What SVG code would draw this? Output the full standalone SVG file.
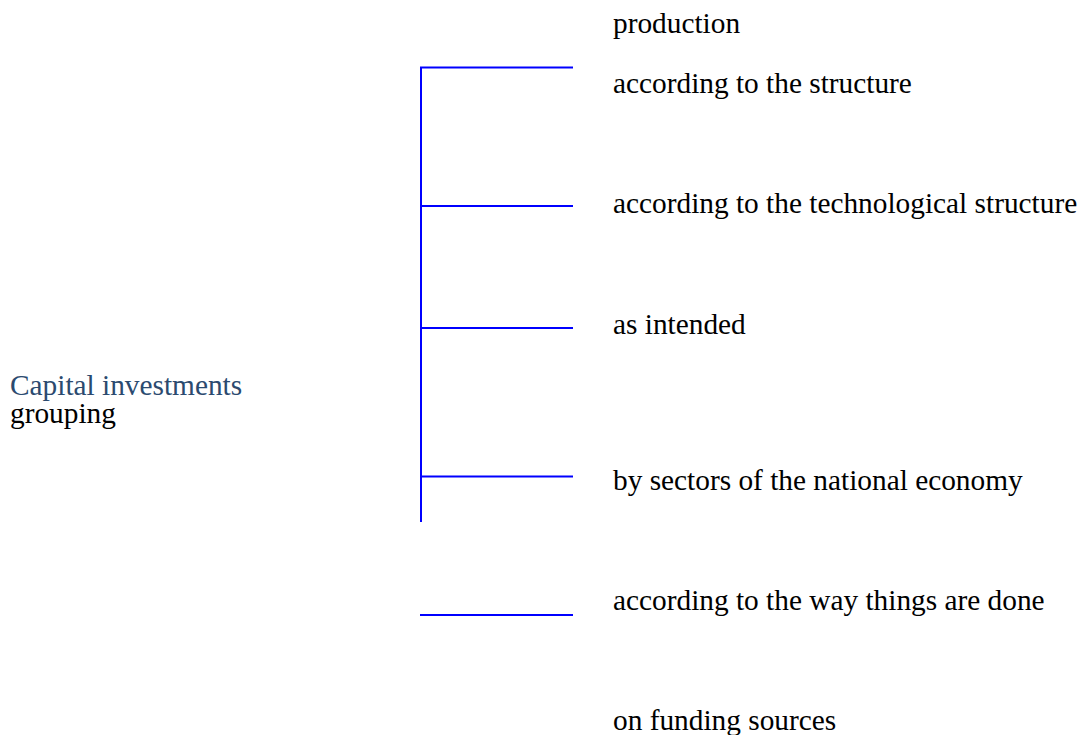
<svg xmlns="http://www.w3.org/2000/svg" width="1080" height="735" viewBox="0 0 1080 735">
<style>
.t{font-family:"Liberation Serif","Times New Roman",serif;font-size:29.33px;fill:#000}
.c{fill:#2B4A6F}
.ln{stroke:#0000FF;stroke-width:2;fill:none}
</style>
<rect width="1080" height="735" fill="#fff"/>
<g id="connectors">
<line class="ln" x1="421" y1="67" x2="421" y2="522"/>
<line class="ln" x1="420" y1="67.5" x2="573" y2="67.5"/>
<line class="ln" x1="420" y1="206" x2="573" y2="206"/>
<line class="ln" x1="420" y1="328" x2="573" y2="328"/>
<line class="ln" x1="420" y1="476.5" x2="573" y2="476.5"/>
<line class="ln" x1="420" y1="615" x2="573" y2="615"/>
</g>
<g id="root"><text class="t" x="10" y="395"><tspan class="c">Capital investments</tspan><tspan x="10" y="423">grouping</tspan></text></g>
<g id="n0"><text class="t" x="613" y="33">production</text></g>
<g id="n1"><text class="t" x="613" y="93">according to the structure</text></g>
<g id="n2"><text class="t" x="613" y="213">according to the technological structure</text></g>
<g id="n3"><text class="t" x="613" y="334">as intended</text></g>
<g id="n4"><text class="t" x="613" y="490">by sectors of the national economy</text></g>
<g id="n5"><text class="t" x="613" y="610">according to the way things are done</text></g>
<g id="n6"><text class="t" x="613" y="730">on funding sources</text></g>
</svg>
